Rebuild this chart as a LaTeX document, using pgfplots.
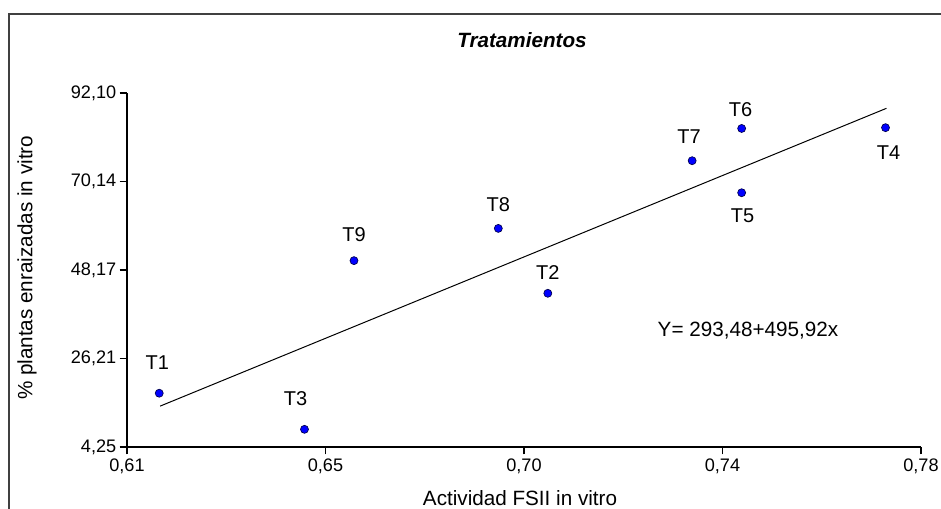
\documentclass[border=0pt]{standalone}
\usepackage{fontspec}
\setmainfont{Liberation Sans}
\usepackage{pgfplots}
\usepackage{pgfplotstable}
\pgfplotsset{compat=1.18}
\pgfplotstableread{
x y label dx dy
0.6169 17.60 T1 -1.5 23.25
0.7001 42.40 T2 0 15.75
0.6480 8.64 T3 -6.75 22.9
0.7724 83.50 T4 2.25 -18.75
0.7416 67.35 T5 0.75 -17.25
0.7416 83.30 T6 -0.75 14.25
0.7310 75.30 T7 -2.25 18
0.6895 58.50 T8 0 18
0.6586 50.50 T9 0 19.5
}\pts
\pgfplotstableread{
x y
0.6171 14.4
0.7726 88.3
}\fit
\begin{document}
\begin{tikzpicture}
\useasboundingbox (0,0) rectangle (705.75pt,381pt);
\draw[black!75, line width=0.8pt] (6.75pt,-5pt) -- (6.75pt,370.5pt) -- (720pt,370.5pt);
\begin{axis}[
  at={(95.25pt,45.75pt)}, anchor=south west,
  scale only axis, width=595.5pt, height=265.5pt,
  xmin=0.61, xmax=0.78, ymin=4.25, ymax=92.10,
  axis x line=bottom, axis y line=left,
  axis line style={-, line width=1.1pt, black},
  tick align=outside, major tick length=5.5pt,
  tick style={black, line width=0.9pt},
  xtick={0.61,0.6525,0.695,0.7375,0.78},
  xticklabels={{0,61},{0,65},{0,70},{0,74},{0,78}},
  ytick={4.25,26.2125,48.175,70.1375,92.10},
  yticklabels={{4,25},{26,21},{48,17},{70,14},{92,10}},
  ticklabel style={font=\fontsize{13.6}{16}\selectfont},
  yticklabel style={xshift=1pt},
  xlabel={Actividad FSII in vitro},
  ylabel={\% plantas enraizadas in vitro},
  label style={font=\fontsize{15.5}{18}\selectfont},
  xlabel style={at={(axis description cs:0.495,-0.164)}, anchor=base},
  ylabel style={at={(axis description cs:-0.126,0.506)}, anchor=center},
  title={Tratamientos},
  title style={at={(axis description cs:0.4975,1.105)}, anchor=base, font=\fontsize{15.5}{18}\selectfont\bfseries\itshape},
  clip=false,
]
\addplot[black, line width=0.75pt] table[x=x,y=y]{\fit};
\addplot[only marks, mark=*, mark size=3pt,
  mark options={fill=blue, draw=black!70!blue, line width=0.5pt},
  nodes near coords, point meta=explicit symbolic,
  visualization depends on={\thisrow{dx} \as \dx},
  visualization depends on={\thisrow{dy} \as \dy},
  every node near coord/.style={anchor=center, xshift={\dx*1pt}, yshift={\dy*1pt}, font=\fontsize{15}{17}\selectfont, text=black},
] table[x=x,y=y,meta=label]{\pts};
\node[anchor=base west, font=\fontsize{15.5}{18}\selectfont] at (axis description cs:0.6625,0.311) {Y= 293,48+495,92x};
\end{axis}
\end{tikzpicture}
\end{document}
